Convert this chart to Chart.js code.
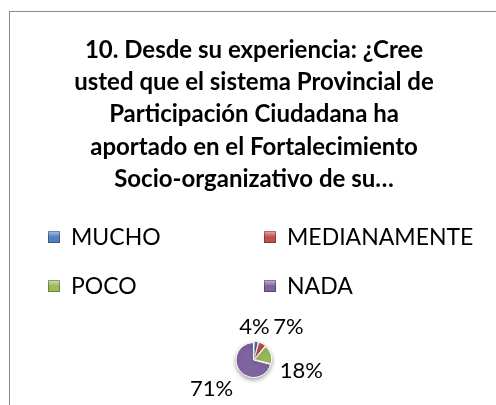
<!DOCTYPE html>
<html>
<head>
<meta charset="utf-8">
<script src="https://cdn.jsdelivr.net/npm/chart.js@4"></script>
<style>
  html, body { margin: 0; padding: 0; background: #fff; }
  body { width: 496px; height: 405px; position: relative; overflow: hidden; }
  .frame { position: absolute; left: 9px; top: 11px; width: 600px; height: 600px;
           border: 1px solid #8a8a8a; box-sizing: border-box; }
  #chart { position: absolute; left: 0; top: 0; }
</style>
</head>
<body>
<div class="frame"></div>
<canvas id="chart" width="496" height="405"></canvas>
<script>
'use strict';
/* ============================================================
   Pie — 10. Fortalecimiento socio-organizativo
   ============================================================ */

const categories = ['MUCHO', 'MEDIANAMENTE', 'POCO', 'NADA'];
const percents   = [4, 7, 18, 71];
const colors     = ['#4F81BD', '#C0504D', '#9BBB59', '#8064A2'];
const titleLines = [
  '10. Desde su experiencia: ¿Cree',
  'usted que el sistema Provincial de',
  'Participación Ciudadana ha',
  'aportado en el Fortalecimiento',
  'Socio-organizativo de su…'
];

const FONT = 'Lato, "Open Sans", sans-serif';

// ── Légende en deux colonnes (dessinée à la main) ─────────────
const gridLegend = {
  id: 'gridLegend',
  afterDraw(chart, args, opts) {
    const { ctx } = chart;
    const labels = chart.data.labels;
    const bg = chart.data.datasets[0].backgroundColor;
    ctx.save();
    ctx.font = `${opts.size}px ${FONT}`;
    ctx.textBaseline = 'middle';
    labels.forEach((lbl, i) => {
      const x = opts.cols[i % 2];
      const y = opts.rows[Math.floor(i / 2)];
      const s = opts.box;
      const g = ctx.createLinearGradient(0, y - s / 2, 0, y + s / 2);
      g.addColorStop(0, 'rgba(255,255,255,.55)');
      g.addColorStop(0.5, 'rgba(255,255,255,0)');
      ctx.fillStyle = bg[i];
      ctx.fillRect(x, y - s / 2, s, s);
      ctx.fillStyle = g;
      ctx.fillRect(x, y - s / 2, s, s);
      ctx.strokeStyle = 'rgba(0,0,0,.3)';
      ctx.lineWidth = 1;
      ctx.strokeRect(x + .5, y - s / 2 + .5, s - 1, s - 1);
      ctx.fillStyle = '#000';
      ctx.fillText(lbl, x + opts.gap, y + 1);
    });
    ctx.restore();
  }
};

// ── Ombre douce sous le camembert ─────────────────────────────
const pieShadow = {
  id: 'pieShadow',
  beforeDatasetsDraw(chart) {
    const { ctx } = chart;
    ctx.save();
    ctx.shadowColor = 'rgba(0,0,0,.35)';
    ctx.shadowBlur = 4;
    ctx.shadowOffsetY = 2;
  },
  afterDatasetsDraw(chart) {
    chart.ctx.restore();
  }
};

// ── Étiquettes de pourcentage autour des parts ────────────────
const sliceLabels = {
  id: 'sliceLabels',
  afterDatasetsDraw(chart, args, opts) {
    const { ctx } = chart;
    const meta = chart.getDatasetMeta(0);
    const vals = chart.data.datasets[0].data;
    ctx.save();
    ctx.font = `${opts.size}px ${FONT}`;
    ctx.fillStyle = '#000';
    ctx.textAlign = 'center';
    ctx.textBaseline = 'middle';
    meta.data.forEach((arc, i) => {
      const p = arc.getProps(['x', 'y', 'startAngle', 'endAngle', 'outerRadius'], true);
      const mid = (p.startAngle + p.endAngle) / 2;
      const r = p.outerRadius + opts.distance;
      const sh = opts.shift[i] || [0, 0];
      const x = p.x + Math.cos(mid) * r + sh[0];
      const y = p.y + Math.sin(mid) * r + sh[1];
      ctx.fillText(vals[i] + '%', x, y);
    });
    ctx.restore();
  }
};

new Chart(document.getElementById('chart').getContext('2d'), {
  type: 'pie',
  data: {
    labels: categories,
    datasets: [{
      data: percents,
      backgroundColor: colors,
      borderColor: '#fff',
      borderWidth: 1,
      offset: [3, 3, 3, 2],
      radius: 17
    }]
  },
  options: {
    responsive: false,
    animation: false,
    layout: { padding: { left: 12, right: 0, top: 0, bottom: 0 } },
    plugins: {
      legend: { display: false },
      tooltip: { enabled: false },
      title: {
        display: true,
        text: titleLines,
        color: '#000',
        font: { family: FONT, size: 24, weight: 'bold', lineHeight: 1.345 },
        padding: { top: 34, bottom: 119 }
      },
      gridLegend: { cols: [48, 264], rows: [237, 286], box: 12, gap: 23, size: 23 },
      sliceLabels: {
        size: 22,
        distance: 19,
        shift: [[-4, 3], [18, -1], [13, 22], [-14, 7]]
      }
    }
  },
  plugins: [gridLegend, pieShadow, sliceLabels]
});
</script>
</body>
</html>
